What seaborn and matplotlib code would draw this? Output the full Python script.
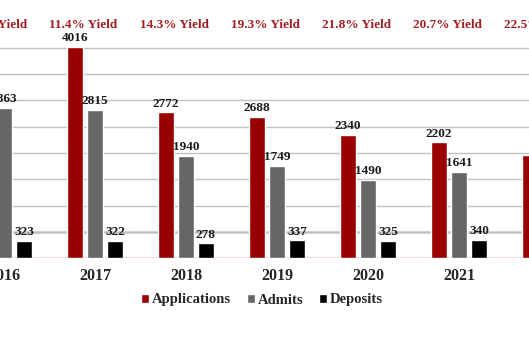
import pandas as pd
import matplotlib.pyplot as plt
import seaborn as sns

# ----- enrollment funnel by year -----
years = ['2016', '2017', '2018', '2019', '2020', '2021', '2022']
applications = [3600, 4016, 2772, 2688, 2340, 2202, 1962]
admits = [2863, 2815, 1940, 1749, 1490, 1641, 1400]
deposits = [323, 322, 278, 337, 325, 340, 315]
yield_labels = ['11.3% Yield', '11.4% Yield', '14.3% Yield', '19.3% Yield',
                '21.8% Yield', '20.7% Yield', '22.5% Yield']

series_names = ['Applications', 'Admits', 'Deposits']
colors = ['#990000', '#666666', '#000000']

df = pd.DataFrame({
    'year': years * 3,
    'value': applications + admits + deposits,
    'series': [s for s in series_names for _ in years],
})

sns.set_style('white')
plt.rcParams['font.family'] = ['Liberation Serif', 'DejaVu Serif']
plt.rcParams['font.weight'] = 'bold'

fig = plt.figure(figsize=(5.29, 3.53), dpi=100)
H = 353
ax = fig.add_axes([0, 1 - 258 / H, 1, (258 - 21.75) / H])

sns.barplot(data=df, x='year', y='value', hue='series', palette=colors,
            width=0.66, gap=0.2, saturation=1, ax=ax, legend=True)

ax.set_xlim(-0.044, 5.77)
ax.set_ylim(0, 4500)
ax.set_yticks(range(0, 4001, 500))
ax.set_yticklabels([])
ax.yaxis.grid(True, color='#bfbfbf', lw=1)
ax.axhline(500, color='#d9d9d9', lw=2.2, zorder=0.5)
ax.axhline(0, color='#f2dcdb', lw=1.2, zorder=0.6)
ax.set_axisbelow(True)
for s in ax.spines.values():
    s.set_visible(False)
ax.set_xlabel('')
ax.set_ylabel('')
ax.tick_params(axis='x', length=0, pad=7, labelsize=11.5)
ax.tick_params(axis='y', length=0)

for cont in ax.containers:
    ax.bar_label(cont, fmt='%d', padding=2, fontsize=9.5, fontweight='bold',
                 color='#1a1a1a', clip_on=False)

for i, lab in enumerate(yield_labels):
    ax.text(i - 0.125, 4440, lab, ha='center', va='center', fontsize=9.5,
            fontweight='bold', color='#a11d21', clip_on=False)

ax.legend(loc='center', bbox_to_anchor=(0.495, 1 - 300 / H),
          bbox_transform=fig.transFigure, ncol=3, frameon=False,
          handlelength=0.55, handleheight=0.55, handletextpad=0.2,
          columnspacing=1.1, prop={'size': 10.5, 'weight': 'bold'})

fig.savefig('out.png', dpi=100)
